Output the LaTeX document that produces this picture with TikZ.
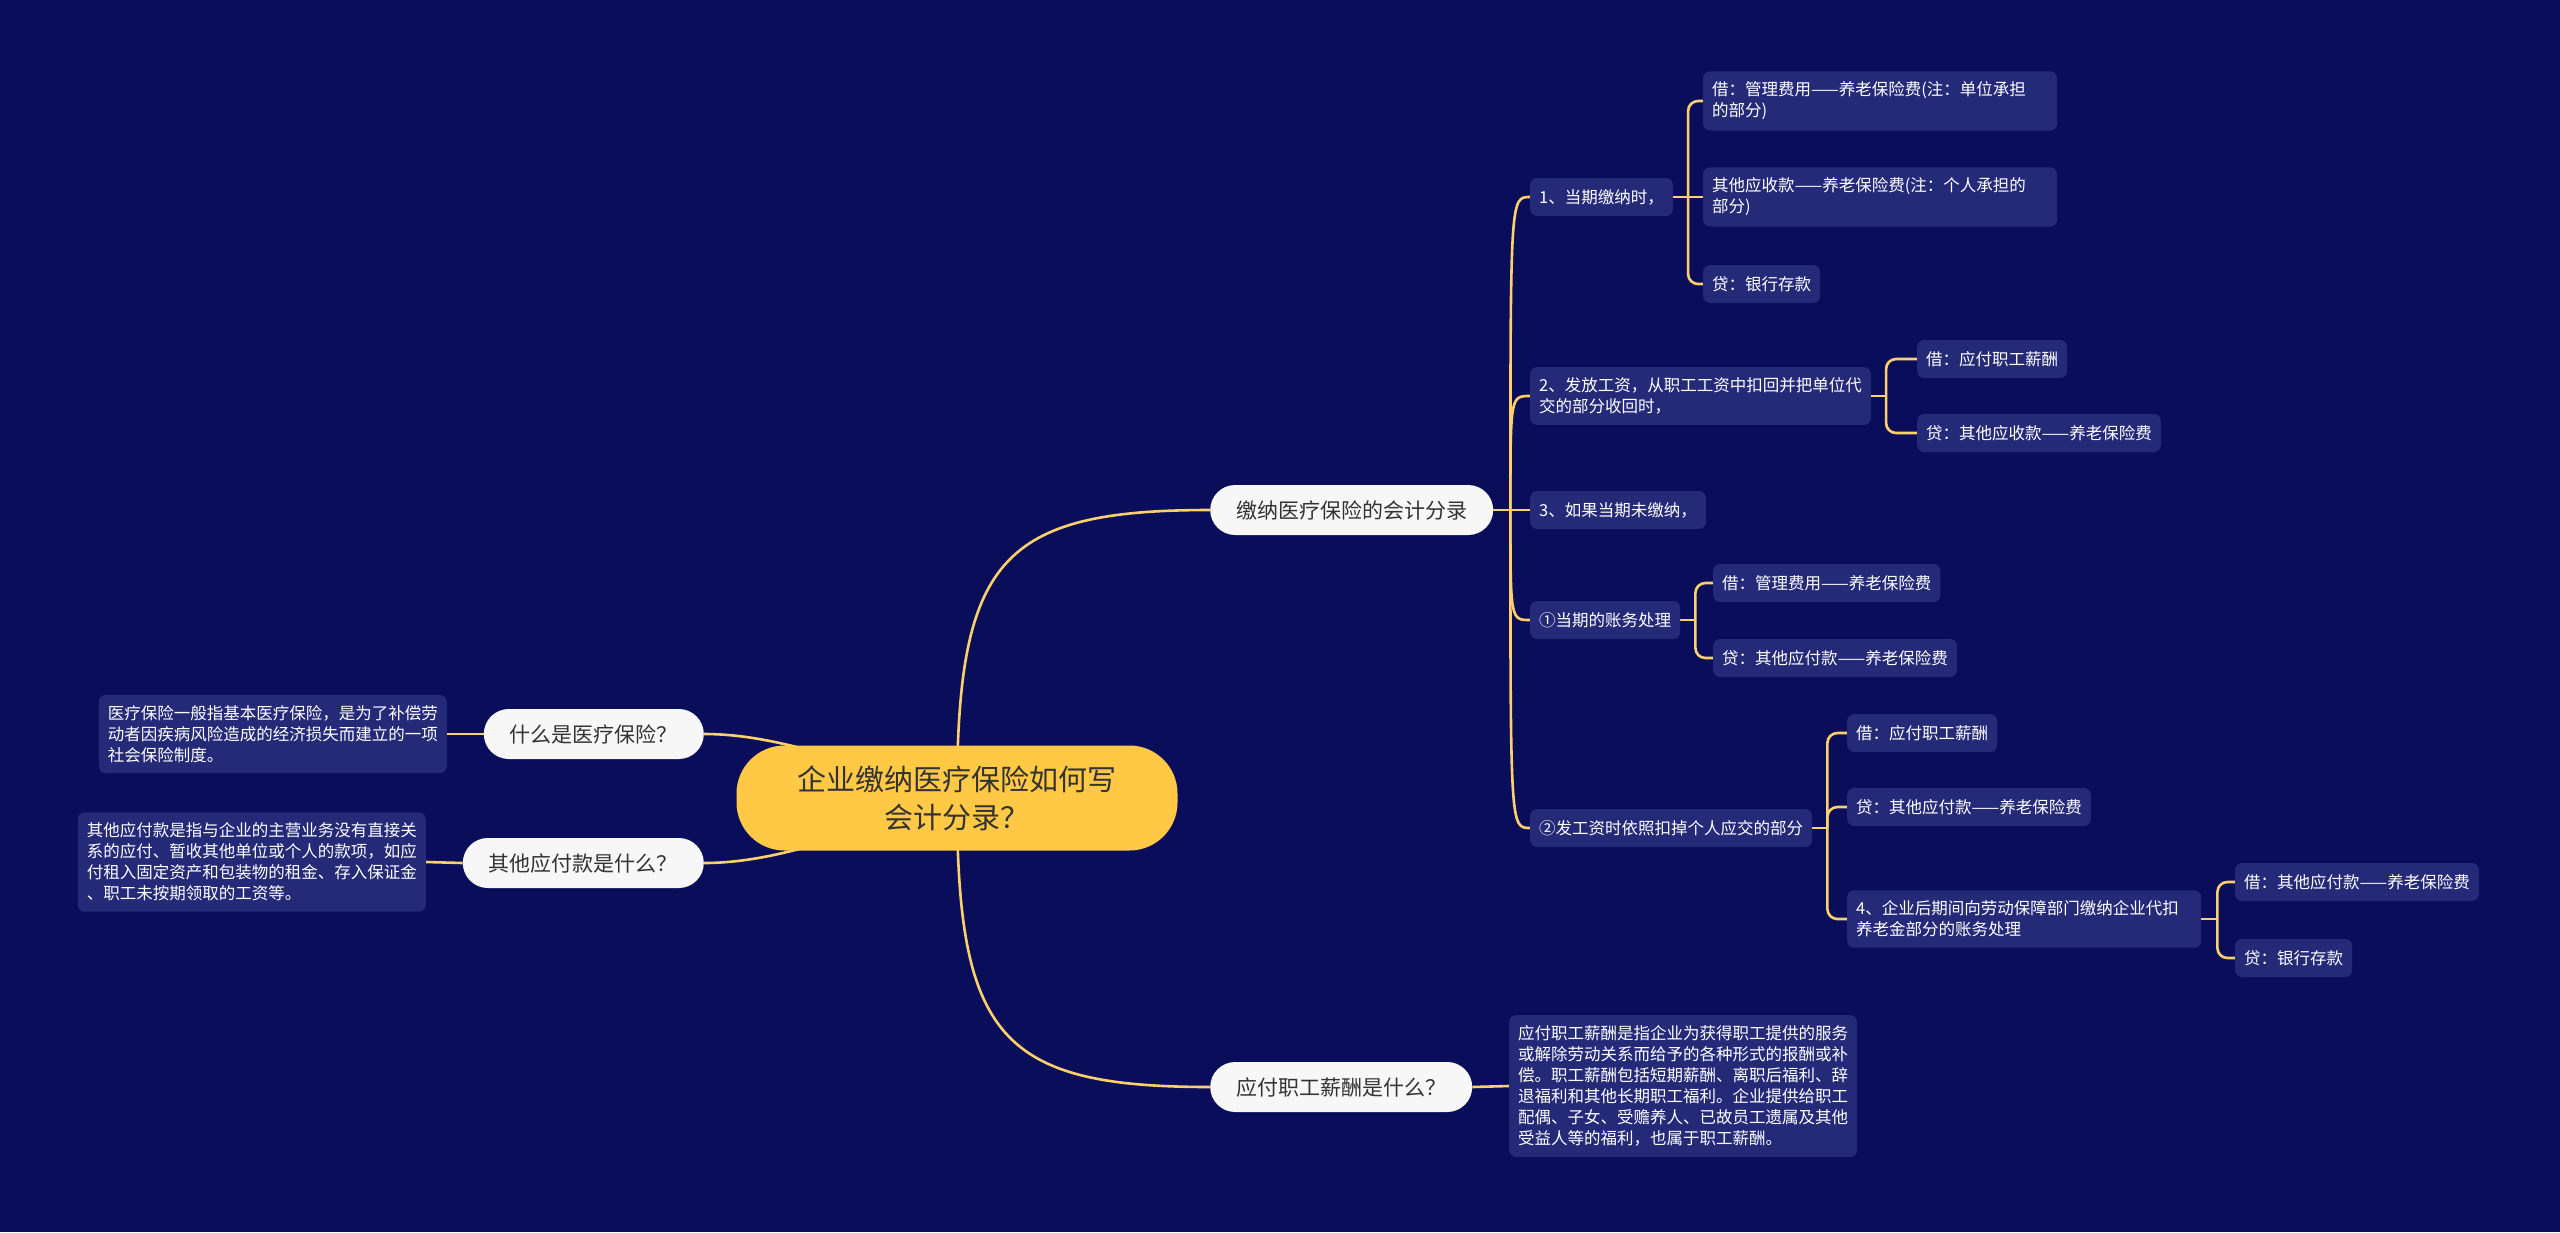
\documentclass[tikz,border=0pt]{standalone}
\usepackage{fontspec}
\setmainfont{Noto Sans CJK SC}
\usetikzlibrary{calc}
\definecolor{bgc}{HTML}{0A0E5A}
\definecolor{leafc}{HTML}{252A78}
\definecolor{linec}{HTML}{FCD06A}
\definecolor{rootc}{HTML}{FFC845}
\definecolor{branchc}{HTML}{F7F7F7}
\definecolor{darktext}{HTML}{333333}
\pgfdeclarelayer{bgl}
\pgfdeclarelayer{edges}
\pgfsetlayers{bgl,edges,main}
\begin{document}
\begin{tikzpicture}[x=1pt,y=-1pt,
 rootbox/.style={fill=rootc, rounded corners=48pt, text=darktext, font=\fontsize{29}{38}\selectfont, align=center, inner sep=0pt, minimum width=441pt, minimum height=105pt},
 branchbox/.style={fill=branchc, rounded corners=25pt, text=darktext, font=\fontsize{21}{26}\selectfont, inner xsep=26pt, inner ysep=0pt, minimum height=50pt},
 leafbox/.style={fill=leafc, rounded corners=7pt, text=white, font=\fontsize{16.5}{21}\selectfont, align=left, inner xsep=9pt, inner ysep=10.5pt, minimum height=38pt},
 widebox/.style={leafbox, text width=336pt},
 conn/.style={draw=linec, line width=2.6pt},
 bracket/.style={conn, rounded corners=10pt},
]
\begin{pgfonlayer}{bgl}
\fill[bgc] (0,0) rectangle (2560,1232);
\end{pgfonlayer}
\useasboundingbox (0,0) rectangle (2560,1232);

% root and branches
\node[rootbox] (root) at (957,798) {企业缴纳医疗保险如何写\\会计分录？};
\node[branchbox, anchor=west] (b1) at (1210,510) {缴纳医疗保险的会计分录};
\node[branchbox, anchor=east] (b2) at (704,734) {什么是医疗保险？};
\node[branchbox, anchor=east] (b3) at (704,863) {其他应付款是什么？};
\node[branchbox, anchor=west] (b4) at (1210,1087) {应付职工薪酬是什么？};

% descriptions
\node[leafbox, anchor=east] (d1) at (447,734) {医疗保险一般指基本医疗保险，是为了补偿劳\\动者因疾病风险造成的经济损失而建立的一项\\社会保险制度。};
\node[leafbox, anchor=east] (d2) at (426,862) {其他应付款是指与企业的主营业务没有直接关\\系的应付、暂收其他单位或个人的款项，如应\\付租入固定资产和包装物的租金、存入保证金\\、职工未按期领取的工资等。};
\node[leafbox, anchor=west] (d3) at (1509,1086) {应付职工薪酬是指企业为获得职工提供的服务\\或解除劳动关系而给予的各种形式的报酬或补\\偿。职工薪酬包括短期薪酬、离职后福利、辞\\退福利和其他长期职工福利。企业提供给职工\\配偶、子女、受赡养人、已故员工遗属及其他\\受益人等的福利，也属于职工薪酬。};

% level 2
\node[leafbox, anchor=west] (n1) at (1530,197) {1、当期缴纳时，};
\node[leafbox, anchor=west] (n2) at (1530,396) {2、发放工资，从职工工资中扣回并把单位代\\交的部分收回时，};
\node[leafbox, anchor=west] (n3) at (1530,510) {3、如果当期未缴纳，};
\node[leafbox, anchor=west] (n4) at (1530,620) {①当期的账务处理};
\node[leafbox, anchor=west] (n5) at (1530,828) {②发工资时依照扣掉个人应交的部分};

% level 3
\node[widebox, anchor=west] (n11) at (1703,101) {借：管理费用——养老保险费(注：单位承担\\的部分)};
\node[widebox, anchor=west] (n12) at (1703,197) {其他应收款——养老保险费(注：个人承担的\\部分)};
\node[leafbox, anchor=west] (n13) at (1703,284) {贷：银行存款};
\node[leafbox, anchor=west] (n21) at (1917,359) {借：应付职工薪酬};
\node[leafbox, anchor=west] (n22) at (1917,433) {贷：其他应收款——养老保险费};
\node[leafbox, anchor=west] (n41) at (1713,583) {借：管理费用——养老保险费};
\node[leafbox, anchor=west] (n42) at (1713,658) {贷：其他应付款——养老保险费};
\node[leafbox, anchor=west] (n51) at (1847,733) {借：应付职工薪酬};
\node[leafbox, anchor=west] (n52) at (1847,807) {贷：其他应付款——养老保险费};
\node[widebox, anchor=west] (n53) at (1847,919) {4、企业后期间向劳动保障部门缴纳企业代扣\\养老金部分的账务处理};
\node[leafbox, anchor=west] (n531) at (2235,882) {借：其他应付款——养老保险费};
\node[leafbox, anchor=west] (n532) at (2235,958) {贷：银行存款};

\begin{pgfonlayer}{edges}
% root to branches
\draw[conn] (root.center) .. controls ($(root.center |- b1.west)+(0,50)$) and ($(root.center |- b1.west)+(43,0)$) .. (b1.west);
\draw[conn] (root.center) .. controls ($(root.center |- b4.west)+(0,-50)$) and ($(root.center |- b4.west)+(43,0)$) .. (b4.west);
\draw[conn] (root.center) .. controls ($(root.center)+(-100,-33)$) and ($(b2.east)+(75,0)$) .. (b2.east);
\draw[conn] (root.center) .. controls ($(root.center)+(-100,33)$) and ($(b3.east)+(75,0)$) .. (b3.east);
% branches to descriptions
\draw[conn] (b2.west) -- (d1.east);
\draw[conn] (b3.west) -- (d2.east);
\draw[conn] (b4.east) -- (d3.west);
% b1 to level 2
\draw[conn] (b1.east) -- ($(b1.east)+(17,0)$) coordinate (s1);
\draw[conn] (s1) .. controls (s1 |- n1.west) .. (n1.west);
\draw[conn] (s1) .. controls (s1 |- n2.west) .. (n2.west);
\draw[conn] (s1) -- (n3.west);
\draw[conn] (s1) .. controls (s1 |- n4.west) .. (n4.west);
\draw[conn] (s1) .. controls (s1 |- n5.west) .. (n5.west);
% n1
\draw[conn] (n1.east) -- ($(n1.east)+(15,0)$) coordinate (j1);
\draw[bracket] (j1) -- (j1 |- n11.west) -- (n11.west);
\draw[conn] (j1) -- (n12.west);
\draw[bracket] (j1) -- (j1 |- n13.west) -- (n13.west);
% n2
\draw[conn] (n2.east) -- ($(n2.east)+(15,0)$) coordinate (j2);
\draw[bracket] (j2) -- (j2 |- n21.west) -- (n21.west);
\draw[bracket] (j2) -- (j2 |- n22.west) -- (n22.west);
% n4
\draw[conn] (n4.east) -- ($(n4.east)+(15,0)$) coordinate (j4);
\draw[bracket] (j4) -- (j4 |- n41.west) -- (n41.west);
\draw[bracket] (j4) -- (j4 |- n42.west) -- (n42.west);
% n5
\draw[conn] (n5.east) -- ($(n5.east)+(15,0)$) coordinate (j5);
\draw[bracket] (j5) -- (j5 |- n51.west) -- (n51.west);
\draw[bracket] (j5) -- (j5 |- n52.west) -- (n52.west);
\draw[bracket] (j5) -- (j5 |- n53.west) -- (n53.west);
% n53
\draw[conn] (n53.east) -- ($(n53.east)+(16,0)$) coordinate (j53);
\draw[bracket] (j53) -- (j53 |- n531.west) -- (n531.west);
\draw[bracket] (j53) -- (j53 |- n532.west) -- (n532.west);
\end{pgfonlayer}
\end{tikzpicture}
\end{document}
